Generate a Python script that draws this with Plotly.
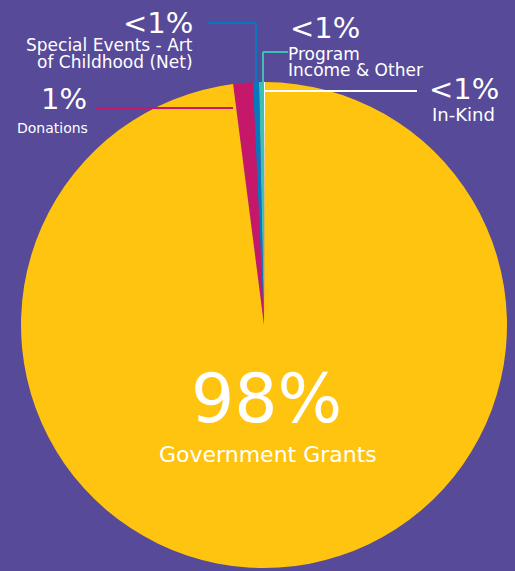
import plotly.graph_objects as go

W, H = 515, 571

# Data
categories = ["In-Kind", "Program Income & Other", "Special Events - Art of Childhood (Net)", "Donations", "Government Grants"]
values = [0.07, 0.33, 0.4, 1.3, 97.9]
pct_labels = ["<1%", "<1%", "<1%", "1%", "98%"]
colors = ["#FFFFFF", "#3EBFB2", "#0A77BD", "#C6186A", "#FFC40F"]

BG = "#574A99"
FONT = "DejaVu Sans"

def px(x):
    return x / W

def py(y):
    return 1 - y / H

fig = go.Figure(go.Pie(
    labels=categories,
    values=values,
    marker=dict(colors=colors, line=dict(width=0)),
    sort=False,
    direction="counterclockwise",
    rotation=0,
    textinfo="none",
    hoverinfo="label+percent",
    showlegend=False,
    domain=dict(x=[px(21), px(507)], y=[py(568), py(82)]),
))

shapes = []
def line(x0, y0, x1, y1, color, w=2):
    shapes.append(dict(type="line", xref="paper", yref="paper",
                       x0=px(x0), y0=py(y0), x1=px(x1), y1=py(y1),
                       line=dict(color=color, width=w), layer="above"))

# leader lines
line(208, 23, 256, 23, colors[2])
line(256, 23, 256, 86, colors[2])
line(263, 52, 288, 52, colors[1])
line(263, 52, 263, 86, colors[1])
line(95, 108, 233, 108, colors[3])
line(264, 91, 417, 91, "#FFFFFF")

annotations = []
def ann(text, x, y, size, xanchor, yanchor="middle"):
    annotations.append(dict(text=text, x=px(x), y=py(y), xref="paper", yref="paper",
                            xanchor=xanchor, yanchor=yanchor, showarrow=False,
                            font=dict(family=FONT, size=size, color="white")))

ann(pct_labels[2], 195, 23, 29, "right")
ann("Special Events - Art", 195, 45, 17, "right")
ann("of Childhood (Net)", 195, 62, 17, "right")
ann(pct_labels[3], 89, 99, 29, "right")
ann(categories[3], 90, 128, 14, "right")
ann(pct_labels[1], 288, 28, 29, "left")
ann("Program", 286, 54, 17, "left")
ann("Income & Other", 286, 70, 17, "left")
ann(pct_labels[0], 427, 89, 29, "left")
ann(categories[0], 430, 115, 18, "left")
ann(pct_labels[4], 266, 398, 68, "center")
ann(categories[4], 268, 454, 22, "center")

fig.update_layout(
    width=W, height=H,
    margin=dict(l=0, r=0, t=0, b=0),
    paper_bgcolor=BG,
    plot_bgcolor=BG,
    shapes=shapes,
    annotations=annotations,
)

fig.write_html(
    "out.html",
    config={"displayModeBar": False},
    post_script="document.body.style.margin='0px';document.body.style.padding='0px';document.body.style.background='" + BG + "';",
)
